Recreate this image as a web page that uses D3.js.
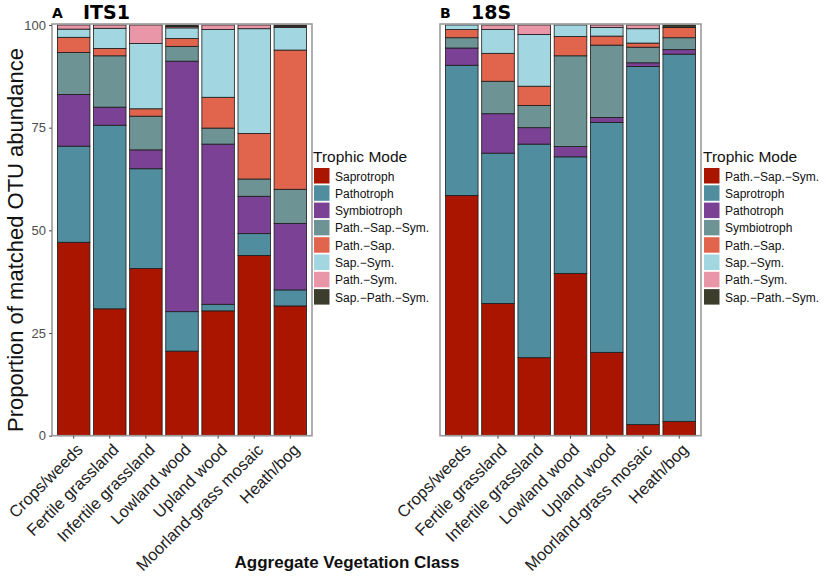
<!DOCTYPE html>
<html>
<head>
<meta charset="utf-8">
<script src="https://cdn.jsdelivr.net/npm/d3@7"></script>
<style>
  body { margin: 0; background: #fff; }
  text { font-family: "Liberation Sans", Arial, sans-serif; }
</style>
</head>
<body>
<svg id="main" width="830" height="577"></svg>
<script>
// vegetation classes (x categories)
var classes = ["Crops/weeds", "Fertile grassland", "Infertile grassland", "Lowland wood",
               "Upland wood", "Moorland-grass mosaic", "Heath/bog"]
var yTicks = [0, 25, 50, 75, 100]

// legend labels for each panel (stacked bottom -> top in this order)
var modesITS = ["Saprotroph", "Pathotroph", "Symbiotroph", "Path.\u2212Sap.\u2212Sym.",
                "Path.\u2212Sap.", "Sap.\u2212Sym.", "Path.\u2212Sym.", "Sap.\u2212Path.\u2212Sym."]
var modes18S = ["Path.\u2212Sap.\u2212Sym.", "Saprotroph", "Pathotroph", "Symbiotroph",
                "Path.\u2212Sap.", "Sap.\u2212Sym.", "Path.\u2212Sym.", "Sap.\u2212Path.\u2212Sym."]
var palette = ["#aa1500", "#508e9f", "#7b4195", "#6e9394", "#e1644d", "#a2d6e0", "#e996a8", "#3d3d2e"]

// percentages per class, one row per class, columns follow the mode order
var itsValues = [
    [47.1, 23.4, 12.6, 10.2, 3.7, 2.0, 1.0, 0],
    [30.9, 44.7, 4.4, 12.5, 1.8, 4.9, 0.8, 0],
    [40.7, 24.3, 4.6, 8.2, 1.8, 15.9, 4.5, 0],
    [20.6, 9.6, 61.0, 3.6, 1.9, 2.6, 0.3, 0.4],
    [30.4, 1.6, 39.0, 3.9, 7.5, 16.5, 1.1, 0],
    [43.9, 5.3, 9.1, 4.2, 11.1, 25.5, 0.9, 0],
    [31.6, 3.9, 16.2, 8.3, 33.9, 5.5, 0.3, 0.3]
]
var s18Values = [
    [58.5, 31.7, 4.2, 2.5, 2.0, 1.1, 0, 0],
    [32.2, 36.6, 9.6, 7.9, 6.8, 5.8, 1.1, 0],
    [19.0, 52.0, 4.0, 5.4, 4.7, 12.6, 2.3, 0],
    [39.5, 28.4, 2.5, 22.1, 4.7, 2.8, 0, 0],
    [20.3, 56.0, 1.2, 17.6, 2.2, 2.1, 0.6, 0],
    [2.7, 87.2, 0.9, 3.8, 1.0, 3.5, 0.9, 0],
    [3.5, 89.4, 1.1, 2.9, 2.5, 0, 0, 0.6]
]

var svg = d3.select('#main')
var yTop = 25, yBottom = 435.7

function panel(opts) {
    var x = d3.scaleBand().domain(classes)
        .range([opts.left, opts.right]).paddingInner(0.1).paddingOuter(0.15)
    var y = d3.scaleLinear().domain([0, 100]).range([yBottom, yTop])
    var g = svg.append('g')

    var rows = opts.values.map(function(v, i) {
        var r = { cls: classes[i] }
        v.forEach(function(d, j) { r['m' + j] = d })
        return r
    })
    var keys = opts.modes.map(function(_, j) { return 'm' + j })
    var series = d3.stack().keys(keys)(rows)

    g.selectAll('g.layer').data(series).enter().append('g')
        .attr('class', 'layer')
        .attr('fill', function(_, i) { return palette[i] })
        .selectAll('rect').data(function(d) { return d.filter(function(p) { return p[1] - p[0] > 0 }) })
        .enter().append('rect')
        .attr('x', function(d) { return x(d.data.cls) })
        .attr('width', x.bandwidth())
        .attr('y', function(d) { return y(d[1]) })
        .attr('height', function(d) { return y(d[0]) - y(d[1]) })
        .attr('stroke', '#1b1b1b')
        .attr('stroke-width', 0.8)

    // panel frame
    g.append('rect')
        .attr('x', opts.left).attr('y', yTop - 1)
        .attr('width', opts.right - opts.left).attr('height', yBottom - yTop + 1)
        .attr('fill', 'none').attr('stroke', '#9a9a9a').attr('stroke-width', 1.6)

    if (opts.yAxis) {
        var ax = g.append('g').attr('transform', 'translate(' + opts.left + ',0)')
            .call(d3.axisLeft(y).tickValues(yTicks).tickSize(3).tickFormat(d3.format('d')))
        ax.select('.domain').remove()
        ax.selectAll('line').attr('stroke', '#4d4d4d')
        ax.selectAll('text').attr('fill', '#4d4d4d').style('font-size', '13px')
            .style('font-family', '"Liberation Sans", Arial, sans-serif')
    }

    var xa = g.append('g').attr('transform', 'translate(0,' + yBottom + ')')
        .call(d3.axisBottom(x).tickSize(3))
    xa.select('.domain').remove()
    xa.selectAll('line').attr('stroke', '#4d4d4d')
    xa.selectAll('text')
        .attr('fill', '#222').style('font-size', '16.5px')
        .style('font-family', '"Liberation Sans", Arial, sans-serif')
        .attr('text-anchor', 'end')
        .attr('x', 0).attr('y', 0).attr('dy', '0.35em')
        .attr('transform', 'translate(6,11) rotate(-45)')

    // panel tag and title
    svg.append('text').attr('x', opts.left).attr('y', 18)
        .style('font-family', '"DejaVu Sans", sans-serif').style('font-weight', 'bold')
        .style('font-size', '14px').text(opts.tag)
    svg.append('text').attr('x', opts.left + 31).attr('y', 19)
        .style('font-family', '"DejaVu Sans", sans-serif').style('font-weight', 'bold')
        .style('font-size', '19px').text(opts.title)

    // legend
    var lg = svg.append('g').attr('transform', 'translate(' + opts.legX + ',0)')
    lg.append('text').attr('x', 0).attr('y', 162).style('font-size', '15.5px').attr('fill', '#111')
        .text('Trophic Mode')
    lg.selectAll('rect.key').data(opts.modes).enter().append('rect')
        .attr('class', 'key')
        .attr('x', 1).attr('y', function(_, i) { return 168 + i * 17.3 })
        .attr('width', 15.5).attr('height', 15.5)
        .attr('fill', function(_, i) { return palette[i] })
    lg.selectAll('text.lab').data(opts.modes).enter().append('text')
        .attr('class', 'lab')
        .attr('x', 22).attr('y', function(_, i) { return 180.5 + i * 17.3 })
        .style('font-size', '12px').attr('fill', '#111')
        .text(function(d) { return d })
}

panel({ left: 52, right: 312, values: itsValues, modes: modesITS, yAxis: true,
        tag: 'A', title: 'ITS1', legX: 313 })
panel({ left: 440, right: 701, values: s18Values, modes: modes18S, yAxis: false,
        tag: 'B', title: '18S', legX: 703 })

svg.append('text')
    .attr('transform', 'translate(23,240) rotate(-90)')
    .attr('text-anchor', 'middle')
    .style('font-size', '22px').attr('fill', '#111')
    .text('Proportion of matched OTU abundance')

svg.append('text')
    .attr('x', 347).attr('y', 568).attr('text-anchor', 'middle')
    .style('font-weight', 'bold')
    .style('font-size', '17px').attr('fill', '#111')
    .text('Aggregate Vegetation Class')
</script>
</body>
</html>
